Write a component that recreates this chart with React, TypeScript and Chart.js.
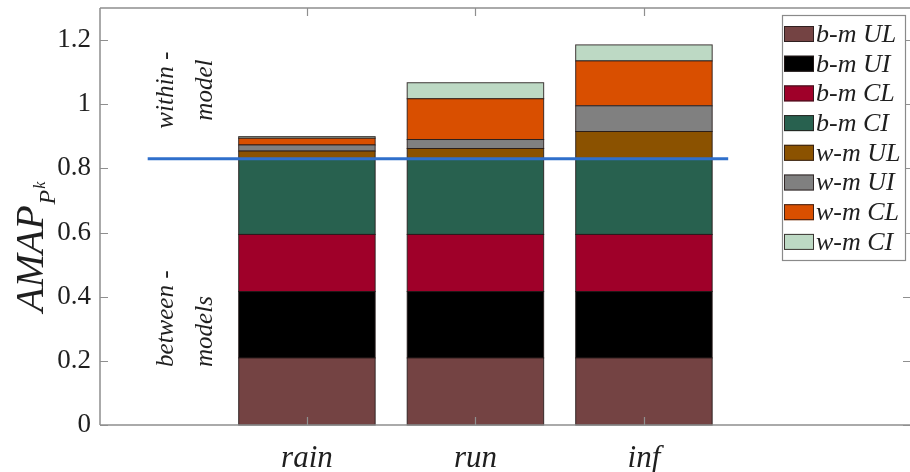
import React, { useEffect, useRef } from "react";
import { Chart, registerables } from "chart.js";

Chart.register(...registerables);

// ---------- data ----------
const categories = ["rain", "run", "inf"];
const categoryPositions = [1, 2, 3];
const seriesLabels = ["b-m UL", "b-m UI", "b-m CL", "b-m CI", "w-m UL", "w-m UI", "w-m CL", "w-m CI"];
const bmUL = [0.209, 0.209, 0.209];
const bmUI = [0.207, 0.207, 0.207];
const bmCL = [0.178, 0.178, 0.178];
const bmCI = [0.236, 0.236, 0.236];
const wmUL = [0.024, 0.032, 0.085];
const wmUI = [0.019, 0.028, 0.080];
const wmCL = [0.021, 0.127, 0.140];
const wmCI = [0.005, 0.050, 0.050];
const seriesColors = ["#744343", "#000000", "#9f0029", "#28614f", "#8b5200", "#808080", "#d94f00", "#bdd9c4"];
const thresholdX = [0.055, 3.5];
const thresholdY = [0.83, 0.83];
const yTickValues = [0, 0.2, 0.4, 0.6, 0.8, 1.0, 1.2];
// rotated notes inside the axes
const noteTexts = ["within -", "model", "between -", "models"];
const noteX = [0.205, 0.436, 0.205, 0.436];
const noteY = [1.044, 1.044, 0.181, 0.181];
const noteAlign = ["center", "center", "left", "left"];

const seriesValues = [bmUL, bmUI, bmCL, bmCI, wmUL, wmUI, wmCL, wmCI];

const TEXT = "#1f1f1f";
const AXIS = "#8f8f8f";
const SERIF = "'Liberation Serif', 'DejaVu Serif', serif";
const EDGE = "rgba(35,25,25,0.85)";

// stroke bar edges after each bar dataset (avoids light anti-aliasing seams)
const edgePlugin = {
  id: "edges",
  afterDatasetDraw(chart: any, args: any) {
    const meta = args.meta;
    if (meta.type !== "bar") return;
    const ctx = chart.ctx;
    ctx.save();
    ctx.strokeStyle = EDGE;
    ctx.lineWidth = 1;
    meta.data.forEach((el: any) => {
      const p = el.getProps(["x", "y", "base", "width"], true);
      const left = p.x - p.width / 2;
      const top = Math.min(p.y, p.base);
      const h = Math.abs(p.base - p.y);
      ctx.strokeRect(left, top, p.width, h);
    });
    ctx.restore();
  },
};

const framePlugin = {
  id: "frame",
  afterDatasetsDraw(chart: any) {
    const { ctx, chartArea: a, scales } = chart;
    const xs = scales.x;
    const ys = scales.y;
    ctx.save();
    ctx.strokeStyle = AXIS;
    ctx.lineWidth = 1.5;
    ctx.beginPath();
    ctx.moveTo(a.left, a.top);
    ctx.lineTo(a.right, a.top);
    ctx.moveTo(a.left, a.top);
    ctx.lineTo(a.left, a.bottom);
    ctx.moveTo(a.left, a.bottom);
    ctx.lineTo(a.right, a.bottom);
    ctx.stroke();
    ctx.lineWidth = 1.2;
    ctx.beginPath();
    yTickValues.forEach((v) => {
      const py = Math.round(ys.getPixelForValue(v)) + 0.5;
      ctx.moveTo(a.left, py);
      ctx.lineTo(a.left + 8, py);
      ctx.moveTo(a.right, py);
      ctx.lineTo(a.right - 7, py);
    });
    categoryPositions.forEach((v) => {
      const px = Math.round(xs.getPixelForValue(v)) + 0.5;
      ctx.moveTo(px, a.bottom);
      ctx.lineTo(px, a.bottom - 8);
      ctx.moveTo(px, a.top);
      ctx.lineTo(px, a.top + 8);
    });
    ctx.stroke();
    ctx.restore();
  },
};

const textPlugin = {
  id: "texts",
  afterDraw(chart: any) {
    const { ctx, scales } = chart;
    const xs = scales.x;
    const ys = scales.y;
    ctx.save();
    ctx.fillStyle = TEXT;
    noteTexts.forEach((t, i) => {
      const px = xs.getPixelForValue(noteX[i]);
      const py = ys.getPixelForValue(noteY[i]);
      ctx.save();
      ctx.translate(px, py);
      ctx.rotate(-Math.PI / 2);
      ctx.font = `italic 25px ${SERIF}`;
      ctx.textAlign = noteAlign[i] as CanvasTextAlign;
      ctx.textBaseline = "alphabetic";
      ctx.fillText(t, 0, 0);
      ctx.restore();
    });
    // y-axis title AMAP_{P^k}
    ctx.save();
    ctx.translate(43, 312);
    ctx.rotate(-Math.PI / 2);
    ctx.textAlign = "left";
    ctx.textBaseline = "alphabetic";
    ctx.font = `italic 40px ${SERIF}`;
    ctx.fillText("AMAP", 0, 0);
    const w1 = ctx.measureText("AMAP").width;
    ctx.font = `italic 24px ${SERIF}`;
    ctx.fillText("P", w1 + 1, 12);
    const w2 = ctx.measureText("P").width;
    ctx.font = `italic 16px ${SERIF}`;
    ctx.fillText("k", w1 + 1 + w2 + 1, 2);
    ctx.restore();
    // legend
    const bx = 782, by = 15, bw = 123, bh = 245;
    ctx.fillStyle = "#ffffff";
    ctx.fillRect(bx, by, bw, bh);
    ctx.strokeStyle = "#8a8a8a";
    ctx.lineWidth = 1.2;
    ctx.strokeRect(bx + 0.5, by + 0.5, bw, bh);
    const items = chart.data.datasets.filter((d: any) => d.type === "bar");
    items.forEach((d: any, i: number) => {
      const cy = 34 + i * 29.7;
      ctx.fillStyle = d.backgroundColor;
      ctx.fillRect(784, cy - 8, 30, 16);
      ctx.strokeStyle = EDGE;
      ctx.lineWidth = 1;
      ctx.strokeRect(784.5, cy - 7.5, 29, 15);
      ctx.fillStyle = TEXT;
      ctx.font = `italic 26px ${SERIF}`;
      ctx.textAlign = "left";
      ctx.textBaseline = "middle";
      ctx.fillText(d.label, 816, cy + 1);
    });
    ctx.restore();
  },
};

export default function App() {
  const ref = useRef<HTMLCanvasElement | null>(null);
  useEffect(() => {
    if (!ref.current) return;
    const datasets: any[] = seriesValues.map((vals, i) => ({
      type: "bar",
      label: seriesLabels[i],
      data: vals.map((v, j) => ({ x: categoryPositions[j], y: v })),
      backgroundColor: seriesColors[i],
      borderWidth: 0,
      inflateAmount: 0.01,
      barPercentage: 0.81,
      categoryPercentage: 1,
      order: 2,
      xAxisID: "x",
      yAxisID: "y",
    }));
    datasets.push({
      type: "line",
      label: "threshold",
      data: thresholdX.map((x, i) => ({ x, y: thresholdY[i] })),
      borderColor: "#2f6fcb",
      borderWidth: 3,
      pointRadius: 0,
      fill: false,
      order: 0,
      xAxisID: "x",
      yAxisID: "y2",
    });
    const chart = new Chart(ref.current, {
      type: "bar",
      data: { datasets },
      plugins: [edgePlugin, framePlugin, textPlugin],
      options: {
        animation: false,
        responsive: true,
        maintainAspectRatio: false,
        layout: { padding: { top: 8, left: 0, right: 0, bottom: 0 } },
        plugins: { legend: { display: false }, tooltip: { enabled: false } },
        scales: {
          x: {
            type: "linear",
            min: -0.228,
            max: 4.579,
            stacked: true,
            offset: false,
            grid: { display: false, drawTicks: false },
            border: { display: false },
            afterBuildTicks: (s: any) => {
              s.ticks = categoryPositions.map((v) => ({ value: v }));
            },
            afterFit: (s: any) => {
              s.height = 47;
              s.paddingLeft = 0;
              s.paddingRight = 0;
            },
            ticks: {
              autoSkip: false,
              maxRotation: 0,
              padding: 15,
              color: TEXT,
              font: { family: SERIF, style: "italic", size: 31 },
              callback: (v: any) => {
                const k = categoryPositions.indexOf(Number(v));
                return k >= 0 ? categories[k] : "";
              },
            },
          },
          y: {
            type: "linear",
            min: 0,
            max: 1.3,
            stacked: true,
            grid: { display: false, drawTicks: false },
            border: { display: false },
            afterBuildTicks: (s: any) => {
              s.ticks = yTickValues.map((v) => ({ value: v }));
            },
            afterFit: (s: any) => {
              s.width = 100;
              s.paddingTop = 0;
              s.paddingBottom = 0;
            },
            ticks: {
              padding: 9,
              color: TEXT,
              font: { family: SERIF, size: 27 },
              callback: (v: any) => String(Math.round(Number(v) * 10) / 10),
            },
          },
          y2: { type: "linear", display: false, min: 0, max: 1.3 },
        },
      } as any,
    });
    return () => chart.destroy();
  }, []);
  return (
    <div style={{ position: "absolute", left: 0, top: 0, width: 910, height: 472 }}>
      <canvas ref={ref} />
    </div>
  );
}
